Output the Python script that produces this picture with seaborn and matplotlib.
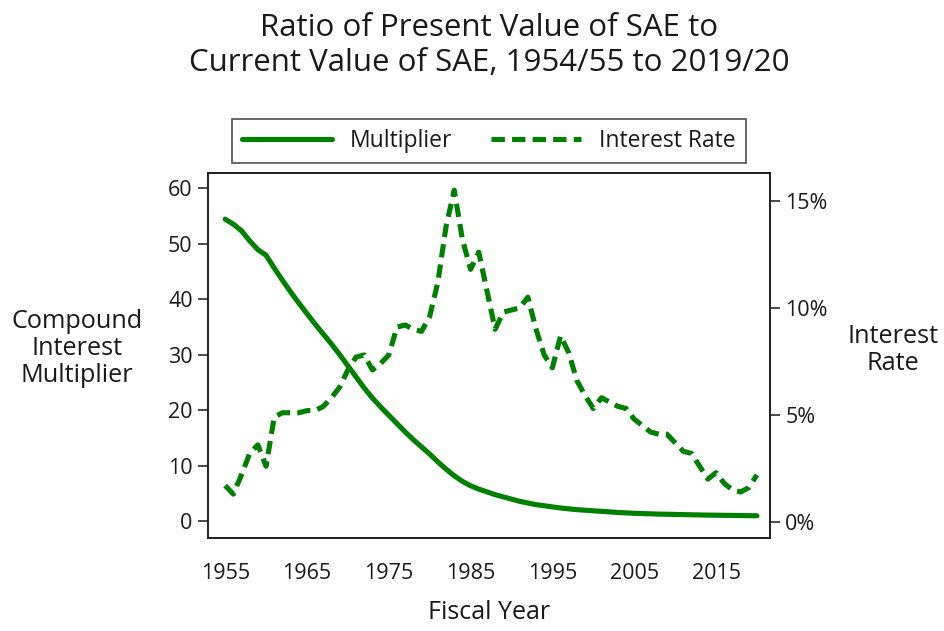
import pandas as pd
import matplotlib.pyplot as plt
import seaborn as sns
from matplotlib.ticker import FuncFormatter

# Fiscal years 1954/55 .. 2019/20 (plotted by ending year)
anios = list(range(1955, 2021))

# Compound interest multiplier
multiplicador = [
    54.4, 53.5, 52.3, 50.5, 48.9, 47.9, 45.6, 43.4, 41.3, 39.3,
    37.4, 35.5, 33.7, 31.9, 30.0, 28.0, 26.0, 24.0, 22.2, 20.6,
    19.1, 17.6, 16.1, 14.7, 13.4, 12.1, 10.7, 9.4, 8.2, 7.2,
    6.4, 5.8, 5.3, 4.8, 4.4, 4.0, 3.6, 3.3, 3.0, 2.8,
    2.6, 2.4, 2.25, 2.1, 2.0, 1.9, 1.8, 1.7, 1.6, 1.52,
    1.45, 1.4, 1.35, 1.3, 1.27, 1.24, 1.21, 1.18, 1.15, 1.12,
    1.1, 1.08, 1.06, 1.04, 1.02, 1.0,
]

# Interest rate, percent
tasa_interes = [
    1.7, 1.3, 2.2, 3.2, 3.6, 2.6, 4.9, 5.1, 5.1, 5.1,
    5.2, 5.2, 5.4, 5.8, 6.3, 7.1, 7.7, 7.8, 7.1, 7.4,
    7.8, 9.1, 9.2, 9.0, 8.9, 9.6, 11.2, 13.8, 15.5, 13.2,
    11.8, 12.6, 10.8, 9.0, 9.8, 9.9, 10.0, 10.5, 9.0, 7.8,
    7.2, 8.7, 7.9, 6.6, 5.9, 5.3, 5.8, 5.6, 5.4, 5.3,
    4.8, 4.5, 4.2, 4.1, 4.1, 3.7, 3.3, 3.2, 2.6, 2.0,
    2.3, 1.8, 1.5, 1.4, 1.6, 2.2,
]

ticks_x = [1955, 1965, 1975, 1985, 1995, 2005, 2015]
ticks_izq = [0, 10, 20, 30, 40, 50, 60]
ticks_der = [0, 5, 10, 15]

sns.set_style("white")
plt.rcParams['font.family'] = ['Open Sans', 'DejaVu Sans']
plt.rcParams['text.color'] = '#1a1a1a'
plt.rcParams['axes.labelcolor'] = '#1a1a1a'
plt.rcParams['xtick.color'] = '#1a1a1a'
plt.rcParams['ytick.color'] = '#1a1a1a'

df = pd.DataFrame({"anio": anios, "mult": multiplicador, "tasa": tasa_interes})
verde = "#008000"

fig = plt.figure(figsize=(9.44, 6.31), dpi=100)
ax = fig.add_axes([0.2203, 0.1474, 0.5954, 0.5784])
ax2 = ax.twinx()

sns.lineplot(data=df, x="anio", y="mult", ax=ax, color=verde, linewidth=3.7,
             label="Multiplier", legend=False)
sns.lineplot(data=df, x="anio", y="tasa", ax=ax2, color=verde, linewidth=3.7,
             linestyle=(0, (2.6, 1.4)), label="Interest Rate", legend=False)

ax.set_xlim(1952.9, 2021.6)
ax.set_ylim(-3.0, 62.7)
ax2.set_ylim(-0.75, 16.3)

ax.set_xticks(ticks_x)
ax.set_yticks(ticks_izq)
ax2.set_yticks(ticks_der)
ax2.yaxis.set_major_formatter(FuncFormatter(lambda v, p: f"{v:.0f}%"))

for a in (ax, ax2):
    for s in a.spines.values():
        s.set_color("#222222")
        s.set_linewidth(1.3)
    a.tick_params(direction="out", length=7, width=1.1, labelsize=15.5, pad=4)
ax.tick_params(axis="x", pad=11)
ax.tick_params(axis="y", left=True)
ax2.tick_params(axis="y", right=True)

ax.set_xlabel("Fiscal Year", fontsize=18)
ax.xaxis.set_label_coords(0.5, -0.205)
ax.xaxis.label.set_va("center")
ax.set_ylabel("Compound\nInterest\nMultiplier", fontsize=18.2, rotation=0,
              ha="center", va="center", linespacing=1.1)
ax.yaxis.set_label_coords(-0.233, 0.52)
ax2.set_ylabel("Interest\nRate", fontsize=18.2, rotation=0, ha="center",
               va="center", linespacing=1.1)
ax2.yaxis.set_label_coords(1.219, 0.515)

handles = [ax.lines[0], ax2.lines[0]]
leg = ax.legend(handles, ["Multiplier", "Interest Rate"], loc="lower center",
                bbox_to_anchor=(0.5, 1.027), borderaxespad=0, ncol=2,
                fontsize=16.5, handlelength=3.9, columnspacing=1.7,
                frameon=True, fancybox=False, edgecolor="#222222",
                borderpad=0.45, handletextpad=0.8)
leg.get_frame().set_linewidth(1.2)

fig.text(0.5185, 0.928, "Ratio of Present Value of SAE to\nCurrent Value of SAE, 1954/55 to 2019/20",
         ha="center", va="center", fontsize=22.5, linespacing=1.2)

fig.savefig("out.png", dpi=100, facecolor="white")
